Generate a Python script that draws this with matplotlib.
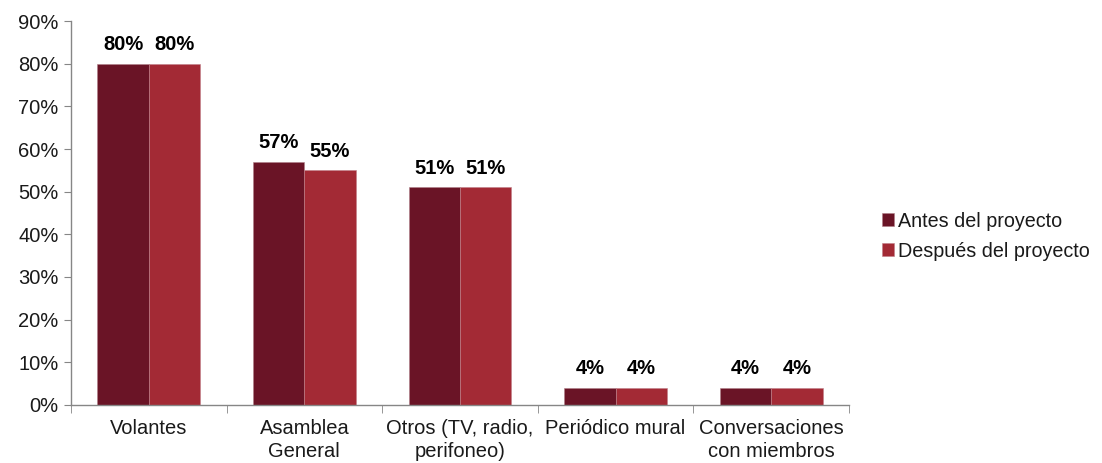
import matplotlib
matplotlib.use("Agg")
import matplotlib.pyplot as plt
import numpy as np

plt.rcParams['font.family'] = ['Liberation Sans', 'DejaVu Sans']

categories = ["Volantes", "Asamblea\nGeneral", "Otros (TV, radio,\nperifoneo)",
              "Periódico mural", "Conversaciones\ncon miembros"]
antes = [80, 57, 51, 4, 4]
despues = [80, 55, 51, 4, 4]
series_names = ["Antes del proyecto", "Después del proyecto"]
yticks = [0, 10, 20, 30, 40, 50, 60, 70, 80, 90]

c_antes = "#6A1426"
c_despues = "#A32A35"
axis_gray = "#868686"
fs = 14.5

fig = plt.figure(figsize=(11.02, 4.63), dpi=100)
ax = fig.add_axes([0.0644, 0.1253, 0.7060, 0.8293])

x = np.arange(len(categories))
w = 0.33
b1 = ax.bar(x - w / 2, antes, w, color=c_antes, edgecolor="#b08088", linewidth=0.4,
            label=series_names[0])
b2 = ax.bar(x + w / 2, despues, w, color=c_despues, edgecolor="#c0808a", linewidth=0.4,
            label=series_names[1])

for bars, vals in ((b1, antes), (b2, despues)):
    for rect, v in zip(bars, vals):
        ax.annotate(f"{v}%", (rect.get_x() + rect.get_width() / 2, v),
                    xytext=(0, 7), textcoords="offset points",
                    ha="center", va="bottom", fontsize=fs, fontweight="bold",
                    color="#000000")

ax.set_xlim(-0.5, len(categories) - 0.5)
ax.set_ylim(0, 90)
ax.set_yticks(yticks)
ax.set_yticklabels([f"{t}%" for t in yticks], fontsize=fs, color="#1a1a1a")

ax.set_xticks(x)
ax.set_xticklabels(categories, fontsize=fs, linespacing=1.3, va="top", color="#1a1a1a")
ax.tick_params(axis="x", length=0, pad=10)
ax.set_xticks(np.arange(len(categories) + 1) - 0.5, minor=True)
ax.tick_params(axis="x", which="minor", length=6, color=axis_gray, direction="out")
ax.tick_params(axis="y", length=5, color=axis_gray, direction="out", pad=4)

for s in ("top", "right"):
    ax.spines[s].set_visible(False)
for s in ("left", "bottom"):
    ax.spines[s].set_color(axis_gray)
    ax.spines[s].set_linewidth(1.0)

fig.legend(handles=[b1, b2], labels=series_names, loc="center left",
           bbox_to_anchor=(0.784, 0.49), frameon=False, fontsize=14.2,
           handlelength=0.6, handleheight=0.6, handletextpad=0.25,
           labelspacing=0.55, labelcolor="#1a1a1a")

fig.savefig("out.png", dpi=100, facecolor="white")
